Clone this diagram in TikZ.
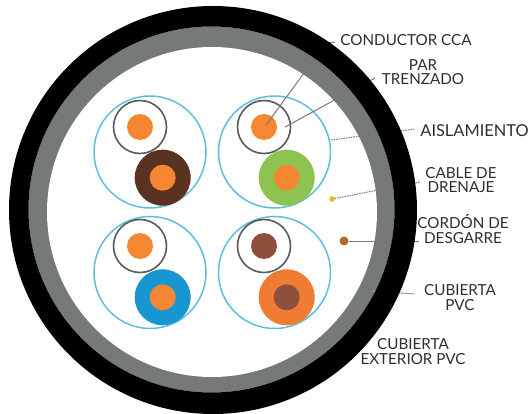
\documentclass[tikz,border=0pt]{standalone}
\usepackage{fontspec}
\setmainfont{Lato}
\definecolor{ringgrey}{HTML}{757979}
\definecolor{pairblue}{HTML}{5DBFDC}
\definecolor{insul}{HTML}{5A5A5E}
\definecolor{cuorange}{HTML}{F58733}
\definecolor{ccabrown}{HTML}{8F4F3E}
\definecolor{wbrown}{HTML}{5A3222}
\definecolor{wgreen}{HTML}{8DC350}
\definecolor{wblue}{HTML}{1896D1}
\definecolor{worange}{HTML}{F07B32}
\definecolor{drain}{HTML}{EDB32B}
\definecolor{rip}{HTML}{B06C25}
\definecolor{labeltext}{HTML}{2E2E33}
\definecolor{leader}{HTML}{77777A}
\tikzset{
  disc/.style={circle,inner sep=0pt,outer sep=0pt,minimum size=#1},
  pairring/.style={disc=112pt,draw=pairblue,line width=1.5pt},
  wirewhite/.style={disc=53pt,draw=insul,line width=1.6pt,fill=white},
  wirecolor/.style={disc=56pt,fill=#1},
  core/.style={disc=26pt,fill=#1},
  lbl/.style={align=center,inner sep=0pt,text=labeltext,font=\fontsize{15.2}{14.2}\selectfont},
  leadline/.style={draw=leader,line width=1pt},
  leaddash/.style={draw=leader,line width=1pt,dash pattern=on 1.5pt off 1pt},
}
\begin{document}
\begin{tikzpicture}[x=1pt,y=-1pt]
\useasboundingbox (0,0) rectangle (530,414);
\fill[white] (0,0) rectangle (530,414);
% jacket
\fill[ringgrey] (211.5,209.5) circle[radius=183pt];
\fill[white] (212,212) circle[radius=165pt];

% pairs
\node[pairring] (p1) at (150,152) {};
\node[pairring] (p2) at (274.5,152) {};
\node[pairring] (p3) at (150,272.5) {};
\node[pairring] (p4) at (274.5,272.5) {};

\node[wirewhite] (a1) at (140,127) {};
\node[core=cuorange] (c1) at (140,127) {};
\node[wirecolor=wbrown] (b1) at (162.7,177.7) {};
\node[core=cuorange] (d1) at (162.7,177.7) {};

\node[wirewhite] (a2) at (264,127) {};
\node[core=cuorange] (c2) at (264,127) {};
\node[wirecolor=wgreen] (b2) at (286.7,177.7) {};
\node[core=cuorange] (d2) at (286.7,177.7) {};

\node[wirewhite] (a3) at (140,246) {};
\node[core=cuorange] (c3) at (140,246) {};
\node[wirecolor=wblue] (b3) at (162.7,297.3) {};
\node[core=cuorange] (d3) at (162.7,297.3) {};

\node[wirewhite] (a4) at (264,246) {};
\node[core=ccabrown] (c4) at (264,246) {};
\node[wirecolor=worange] (b4) at (286.7,297.3) {};
\node[core=ccabrown] (d4) at (286.7,297.3) {};

% dots
\node[disc=5.5pt,fill=drain] (drainb) at (332,199) {};
\node[disc=9pt,fill=rip] (ripb) at (344,241) {};

% leader ends
\coordinate (s1) at (266,125);
\coordinate (e1) at (335,42);
\coordinate (k1) at (326,43);
\coordinate (s2) at (285,127);
\coordinate (e2) at (375,78);
\coordinate (s3) at (331,140);
\coordinate (e3) at (415,129);
\coordinate (e4) at (420,182);
\coordinate (e5) at (419,241);
\coordinate (s6) at (372,291);
\coordinate (e6) at (415,294);

\draw[leadline] (s1) -- (k1) -- (e1);
\draw[leadline] (s2) -- (e2);
\draw[leaddash] (s3) -- (e3);
\draw[leaddash] (drainb) -- (e4);
\draw[leadline] (ripb) -- (e5);
\draw[leadline,draw=leader!70] (s6) -- (e6);

% black jacket over the leaders
\fill[black,even odd rule] (213,210) circle[radius=204pt] (211.5,209.5) circle[radius=183pt];

% labels
\node[lbl] (l1) at (406,40) {CONDUCTOR CCA};
\node[lbl] (l2) at (423,72) {PAR\\TRENZADO};
\node[lbl,font=\fontsize{16.4}{14.2}\selectfont] (l3) at (474.5,131) {AISLAMIENTO};
\node[lbl] (l4) at (461,180) {CABLE DE\\DRENAJE};
\node[lbl] (l5) at (463,229) {CORDÓN DE\\DESGARRE};
\node[lbl] (l6) at (460,297.5) {CUBIERTA\\PVC};
\node[lbl] (l7) at (413,351.5) {CUBIERTA\\EXTERIOR PVC};
\end{tikzpicture}
\end{document}
